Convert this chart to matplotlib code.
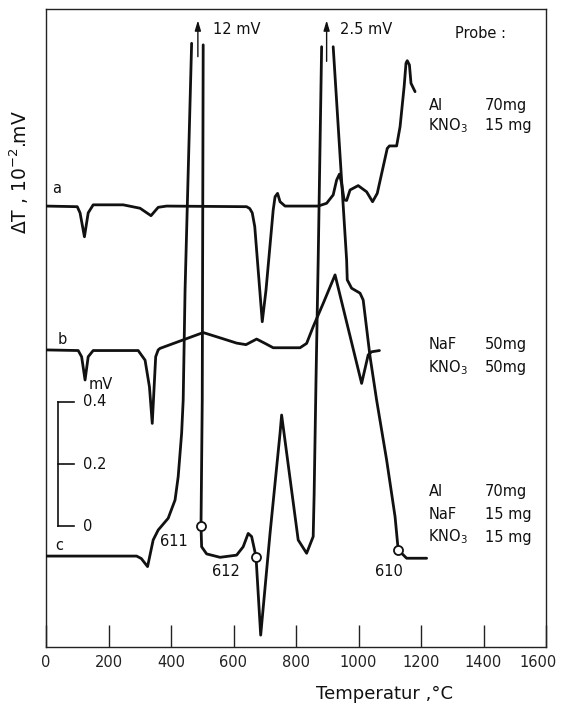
import numpy as np
import matplotlib
matplotlib.use("Agg")
import matplotlib.pyplot as plt
import matplotlib.transforms as mtransforms

# ---------------- data (temperature in °C, signal in mV on the drawing scale) -------------
a_T = [0, 100, 109, 123, 135, 151, 247, 301, 336, 359, 386, 642, 652, 660, 668, 692,
       704, 727, 733, 741, 749, 765, 871, 898, 919, 930, 939, 946, 954, 962, 973, 999,
       1026, 1045, 1060, 1079, 1092, 1099, 1122, 1133, 1146, 1152, 1156, 1163, 1168, 1181]
a_y = [1.032, 1.030, 1.010, 0.933, 1.010, 1.036, 1.036, 1.025, 1.001, 1.028, 1.032, 1.030,
       1.024, 1.010, 0.966, 0.659, 0.761, 1.019, 1.062, 1.073, 1.046, 1.032, 1.032, 1.041,
       1.068, 1.116, 1.135, 1.105, 1.052, 1.050, 1.084, 1.098, 1.078, 1.046, 1.073, 1.159,
       1.218, 1.226, 1.226, 1.288, 1.417, 1.493, 1.501, 1.487, 1.428, 1.401]

b_T = [0, 103, 114, 125, 135, 151, 295, 317, 331, 340, 351, 359, 365, 503, 560, 610, 640,
       674, 701, 727, 813, 834, 855, 887, 925, 1010, 1031, 1042, 1067]
b_y = [0.568, 0.566, 0.546, 0.471, 0.546, 0.566, 0.566, 0.535, 0.449, 0.331, 0.546, 0.568,
       0.573, 0.624, 0.606, 0.590, 0.585, 0.603, 0.589, 0.575, 0.575, 0.589, 0.643, 0.718,
       0.810, 0.460, 0.552, 0.562, 0.566]

# curve c is drawn in three pieces (the two off-scale peaks are broken at the top)
c1_T = [0, 290, 305, 325, 343, 359, 391, 413, 423, 434, 439, 445, 466]
c1_y = [-0.097, -0.097, -0.105, -0.131, -0.045, -0.013, 0.025, 0.084, 0.159, 0.299, 0.406,
        0.761, 1.557]
c2_T = [503, 500, 496, 498, 514, 557, 610, 631, 647, 658, 672, 687, 717, 749, 754, 807, 834,
        855, 858, 864, 871, 882]
c2_y = [1.552, 0.406, 0.0, -0.067, -0.090, -0.101, -0.094, -0.067, -0.024, -0.034, -0.099,
        -0.352, -0.023, 0.300, 0.358, -0.045, -0.088, -0.034, 0.100, 0.470, 0.858, 1.546]
c3_T = [919, 962, 964, 978, 1005, 1015, 1037, 1058, 1090, 1117, 1127, 1154, 1218]
c3_y = [1.546, 0.858, 0.794, 0.767, 0.751, 0.729, 0.546, 0.406, 0.213, 0.030, -0.077,
        -0.104, -0.104]

# marked points on curve c and their sample numbers
mark_T = [496, 672, 1127]
mark_y = [0.0, -0.099, -0.077]
peak_labels = ["611", "612", "610"]
peak_label_T = [410, 576, 1098]
peak_label_y = [-0.050, -0.148, -0.146]

x_ticks = [0, 200, 400, 600, 800, 1000, 1200, 1400, 1600]
scale_ticks = [0.0, 0.2, 0.4]
scale_labels = ["0", "0.2", "0.4"]

# ---------------- figure ----------------
W, H = 562, 706
fig = plt.figure(figsize=(W / 100, H / 100), dpi=100)
ax = fig.add_axes([46 / W, 1 - 647 / H, 500 / W, 638 / H])
ax.set_xlim(0, 1600)
ax.set_ylim(-0.3903, 1.6677)

ink = "#111111"
lw = 2.0
for T, y in [(a_T, a_y), (b_T, b_y), (c1_T, c1_y), (c2_T, c2_y), (c3_T, c3_y)]:
    ax.plot(T, y, color=ink, lw=lw, solid_joinstyle="round", solid_capstyle="round", zorder=3)

ax.plot(mark_T, mark_y, "o", ms=6.5, mfc="white", mec=ink, mew=1.3, zorder=4)

fs = 10.5
for lab, T, y in zip(peak_labels, peak_label_T, peak_label_y):
    ax.text(T, y, lab, fontsize=fs, ha="center", va="center", color=ink)

# curve letters
ax.text(35, 1.090, "a", fontsize=fs, ha="center", va="center", color=ink)
ax.text(51, 0.600, "b", fontsize=fs, ha="center", va="center", color=ink)
ax.text(42, -0.064, "c", fontsize=fs, ha="center", va="center", color=ink)

# off-scale arrows
ax.annotate("", xy=(486, 1.640), xytext=(486, 1.505),
            arrowprops=dict(arrowstyle="-|>,head_length=0.6,head_width=0.18", color=ink, lw=1.0))
ax.text(533, 1.603, "12 mV", fontsize=fs, ha="left", va="center", color=ink)
ax.annotate("", xy=(898, 1.640), xytext=(898, 1.490),
            arrowprops=dict(arrowstyle="-|>,head_length=0.6,head_width=0.18", color=ink, lw=1.0))
ax.text(940, 1.603, "2.5 mV", fontsize=fs, ha="left", va="center", color=ink)

# mV scale bar
sb_T = 39
ax.plot([sb_T, sb_T], [scale_ticks[0], scale_ticks[-1]], color=ink, lw=1.2)
for v, lab in zip(scale_ticks, scale_labels):
    ax.plot([sb_T, 90], [v, v], color=ink, lw=1.2)
    ax.text(118, v, lab, fontsize=fs, ha="left", va="center", color=ink)
ax.text(135, 0.455, "mV", fontsize=fs, ha="left", va="center", color=ink)

# sample descriptions
def row(ypx, left, right):
    y = (526 - ypx) / 310
    ax.text(1224, y, left, fontsize=fs, ha="left", va="center", color=ink)
    ax.text(1405, y, right, fontsize=fs, ha="left", va="center", color=ink)

ax.text(1310, (526 - 34) / 310, "Probe :", fontsize=fs, ha="left", va="center", color=ink)
row(106, "Al", "70mg")
row(126, "KNO$_3$", "15 mg")
row(345, "NaF", "50mg")
row(368, "KNO$_3$", "50mg")
row(491, "Al", "70mg")
row(514, "NaF", "15 mg")
row(537, "KNO$_3$", "15 mg")

# axes styling
for s in ax.spines.values():
    s.set_color("#222222")
    s.set_linewidth(1.0)
ax.set_xticks(x_ticks)
ax.set_xticklabels([str(t) for t in x_ticks], fontsize=10.5)
ax.tick_params(axis="x", direction="in", length=16, width=1.0, pad=6, colors="#222222")
ax.set_yticks([])
# the last label sits a little left of its tick so that it stays inside the picture
last = ax.get_xticklabels()[-1]
last.set_transform(last.get_transform() +
                   mtransforms.ScaledTranslation(-8 / 100, 0, fig.dpi_scale_trans))

fig.text(385 / W, 1 - 694 / H, "Temperatur ,°C", fontsize=13, ha="center", va="center",
         color=ink)
fig.text(19 / W, 1 - 172 / H, "ΔT , 10$^{-2}$.mV", fontsize=13.5, ha="center", va="center",
         rotation=90, color=ink)

fig.savefig("out.png", dpi=100)
